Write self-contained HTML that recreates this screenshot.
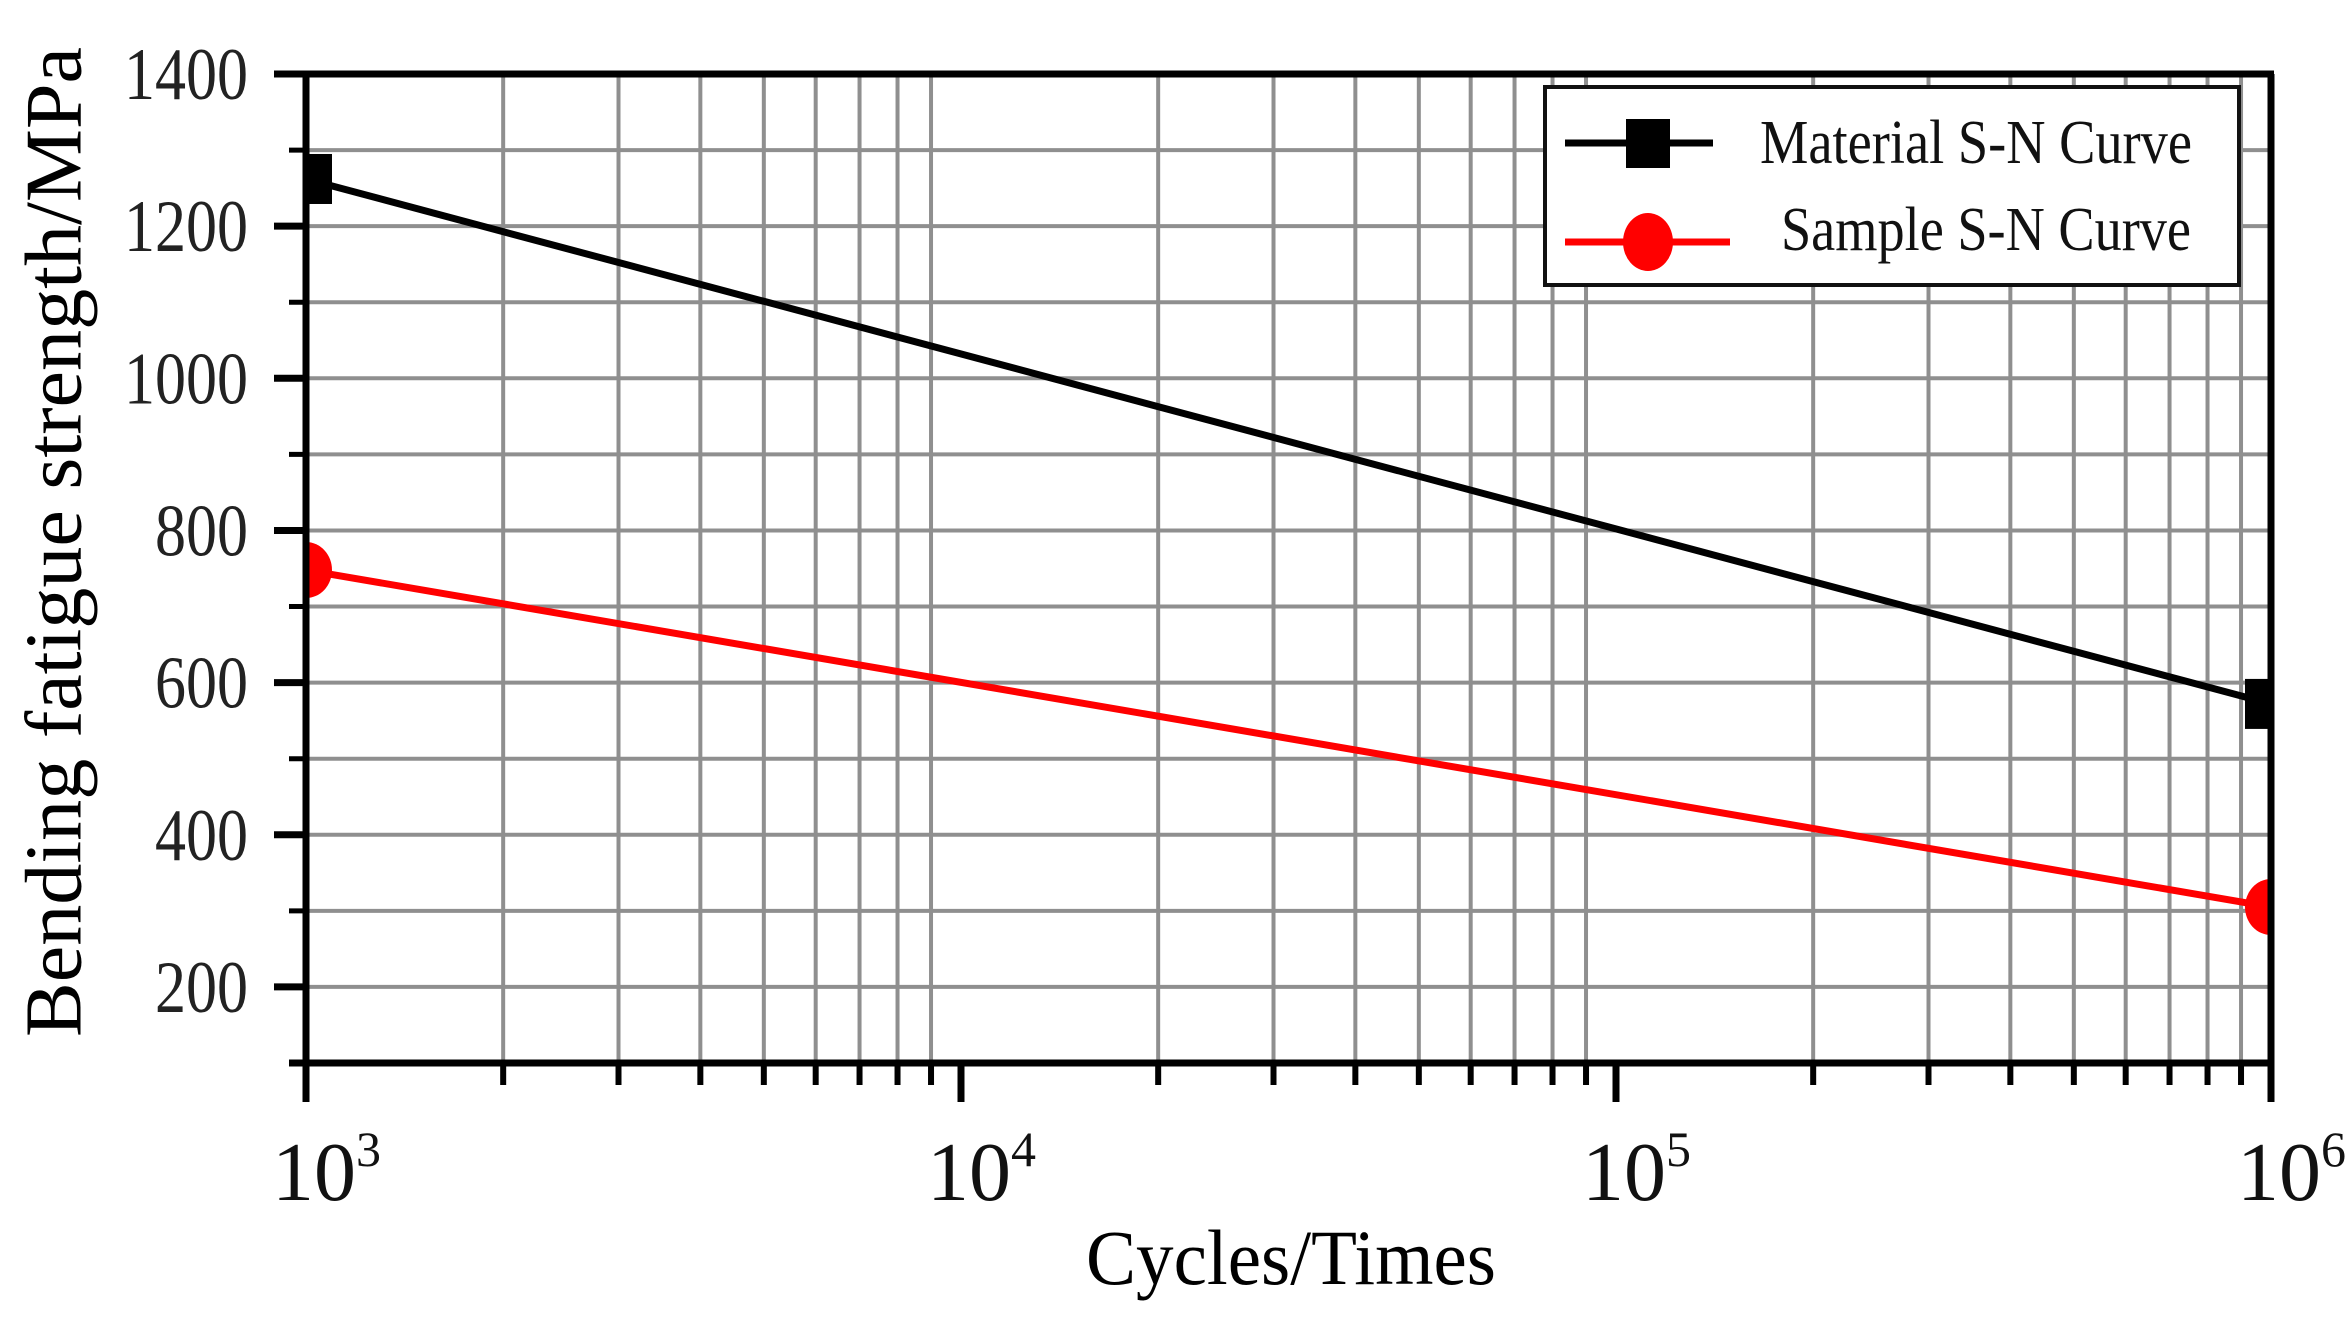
<!DOCTYPE html>
<html><head><meta charset="utf-8"><style>
html,body{margin:0;padding:0;background:#fff;}
svg{display:block;font-family:"Liberation Serif",serif;}
</style></head><body>
<svg id="chart" width="2348" height="1323" viewBox="0 0 2348 1323">
<defs><clipPath id="pc"><rect x="306" y="74" width="1965" height="989"/></clipPath></defs>
<g id="grid"></g>
<g id="series" clip-path="url(#pc)"></g>
<g id="axes"></g>
<text x="62" y="542" transform="rotate(-90 62 542)" text-anchor="middle" font-size="80" textLength="990" lengthAdjust="spacingAndGlyphs" dominant-baseline="middle">Bending fatigue strength/MPa</text>
<text x="1291" y="1284" text-anchor="middle" font-size="78" textLength="410" lengthAdjust="spacingAndGlyphs">Cycles/Times</text>
<g>
<rect x="1545" y="87" width="694" height="198" fill="#fff" stroke="#111" stroke-width="4"/>
<g>
<line x1="1565" y1="143" x2="1713" y2="143" stroke="#000" stroke-width="7"/>
<rect x="1626" y="119" width="44" height="49" fill="#000"/>
<text x="1760" y="163" font-size="62" textLength="432" lengthAdjust="spacingAndGlyphs" fill="#111">Material S-N Curve</text>
</g>
<g>
<line x1="1565" y1="242" x2="1730" y2="242" stroke="#f00" stroke-width="7"/>
<ellipse cx="1648" cy="242" rx="25" ry="29" fill="#f00"/>
<text x="1781" y="250" font-size="62" textLength="410" lengthAdjust="spacingAndGlyphs" fill="#111">Sample S-N Curve</text>
</g>
</g>
</svg>
<script>
const cycles = [1e3, 1e6];
const materialStrength = [1262, 572];
const sampleStrength = [748, 305];
const yTicks = [200, 400, 600, 800, 1000, 1200, 1400];
const xDecades = [3, 4, 5, 6];

const X0=306, X1=2271, Y0=1063, Y1=74, YMIN=100, YMAX=1400;
const xs = v => X0 + (Math.log10(v) - 3) / 3 * (X1 - X0);
const ys = v => Y0 - (v - YMIN) / (YMAX - YMIN) * (Y0 - Y1);
const NS="http://www.w3.org/2000/svg";
function mk(tag, attrs, parent){const e=document.createElementNS(NS,tag);for(const k in attrs)e.setAttribute(k,attrs[k]);parent.appendChild(e);return e;}
const grid=document.getElementById('grid'), axes=document.getElementById('axes'), ser=document.getElementById('series');

for(let v=200; v<YMAX; v+=100){
  const l=mk('line',{x1:X0,x2:X1,y1:ys(v),y2:ys(v),stroke:'#8f8f8f','stroke-width':4},grid);
  
  
  const t=mk('line',{x1:(v%200===0?274:289),x2:X0,y1:ys(v),y2:ys(v),stroke:'#000','stroke-width':(v%200===0?7:5)},axes);
  
  
}
for(let d=3; d<6; d++){
  for(let m=1; m<=9; m++){
    const v=m*Math.pow(10,d);
    if(m>1){
      const l=mk('line',{x1:xs(v),x2:xs(v),y1:Y1,y2:Y0,stroke:'#8f8f8f','stroke-width':4},grid);
      
      
    }
    const t=mk('line',{x1:xs(v),x2:xs(v),y1:Y0,y2:(m===1?1102:1085),stroke:'#000','stroke-width':(m===1?7:6)},axes);
    
    
  }
}
{const t=mk('line',{x1:X1,x2:X1,y1:Y0,y2:1102,stroke:'#000','stroke-width':7},axes);

}
const fr=[[274,Y1,X1+3,Y1],[289,Y0,X1+3,Y0],[X0,Y1,X0,Y0],[X1,Y1,X1,Y0]];
fr.forEach(f=>{const l=mk('line',{x1:f[0],y1:f[1],x2:f[2],y2:f[3],stroke:'#000','stroke-width':7},axes);

});
yTicks.forEach(v=>{
  const s=String(v);
  const t=mk('text',{x:248,y:ys(v)+25,'text-anchor':'end','font-size':74,fill:'#222',textLength:s.length*31,lengthAdjust:'spacingAndGlyphs'},axes);
  
  
  t.textContent=s;
});
xDecades.forEach(d=>{
  const cx=xs(Math.pow(10,d));
  const t=mk('text',{x:cx-34,y:1200,'font-size':84,fill:'#111'},axes);
  
  
  t.textContent='10';
  const s=mk('tspan',{dy:-34,'font-size':50},t);
  s.textContent=d;
});
function poly(vals,color){
  const pts=cycles.map((c,i)=>xs(c)+','+ys(vals[i])).join(' ');
  return mk('polyline',{points:pts,fill:'none',stroke:color,'stroke-width':7},ser);
}
const lm=poly(materialStrength,'#000');


const ls=poly(sampleStrength,'#f00');


cycles.forEach((c,i)=>{
  const r=mk('rect',{x:xs(c)-26,y:ys(materialStrength[i])-25,width:52,height:50,fill:'#000'},ser);
  
  
  const e=mk('ellipse',{cx:xs(c),cy:ys(sampleStrength[i]),rx:26,ry:28,fill:'#f00'},ser);
  
  
});
</script>
</body></html>
